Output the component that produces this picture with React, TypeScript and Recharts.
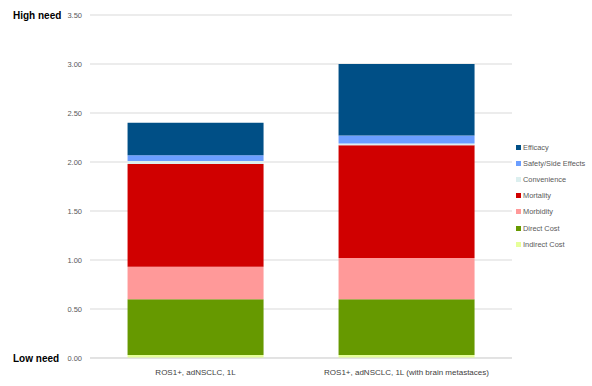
import { BarChart, Bar, XAxis, YAxis, CartesianGrid } from "recharts";

const categories = ["ROS1+, adNSCLC, 1L", "ROS1+, adNSCLC, 1L (with brain metastaces)"];
const indirectCost = [0.03, 0.03];
const directCost = [0.57, 0.57];
const morbidity = [0.33, 0.42];
const mortality = [1.05, 1.15];
const convenience = [0.03, 0.02];
const safety = [0.06, 0.08];
const efficacy = [0.33, 0.73];
const yTicks = [0, 0.5, 1, 1.5, 2, 2.5, 3, 3.5];

// bottom to top stack order
const series = [
  { key: "indirect", name: "Indirect Cost", values: indirectCost, color: "#e6ff99" },
  { key: "direct", name: "Direct Cost", values: directCost, color: "#669900" },
  { key: "morbidity", name: "Morbidity", values: morbidity, color: "#ff9999" },
  { key: "mortality", name: "Mortality", values: mortality, color: "#d00000" },
  { key: "convenience", name: "Convenience", values: convenience, color: "#dcefef" },
  { key: "safety", name: "Safety/Side Effects", values: safety, color: "#6b9eff" },
  { key: "efficacy", name: "Efficacy", values: efficacy, color: "#004f86" },
];

const data = categories.map((name, i) => {
  const row: Record<string, string | number> = { name };
  series.forEach((s) => (row[s.key] = s.values[i]));
  return row;
});

const font = "'Liberation Sans', Arial, sans-serif";

function YTick(props: any) {
  const { x, y, payload } = props;
  const v = payload.value as number;
  return (
    <g>
      <text x={x} y={y} dy={3} textAnchor="end" fontSize={7.5} fill="#595959" fontFamily={font}>
        {v.toFixed(2)}
      </text>
      {v === 3.5 && (
        <text x={13} y={y} dy={3.5} fontSize={10} fontWeight="bold" fill="#000" fontFamily={font}>
          High need
        </text>
      )}
      {v === 0 && (
        <text x={13} y={y} dy={3.5} fontSize={10} fontWeight="bold" fill="#000" fontFamily={font}>
          Low need
        </text>
      )}
    </g>
  );
}

export default function App() {
  return (
    <div style={{ position: "absolute", left: 0, top: 0, width: 592, height: 386, background: "#fff" }}>
      <BarChart
        width={592}
        height={386}
        data={data}
        margin={{ top: 15, right: 80, bottom: 8, left: 0 }}
        barCategoryGap="17.8%"
      >
        <CartesianGrid vertical={false} stroke="#d9d9d9" />
        <XAxis
          dataKey="name"
          axisLine={{ stroke: "#d9d9d9" }}
          tickLine={false}
          tickSize={0}
          tickMargin={11}
          height={20}
          tick={{ fontSize: 8, fill: "#404040", fontFamily: font }}
        />
        <YAxis
          width={90}
          domain={[0, 3.5]}
          ticks={yTicks}
          axisLine={false}
          tickLine={false}
          tick={<YTick />}
        />
        {series.map((s) => (
          <Bar key={s.key} dataKey={s.key} name={s.name} stackId="a" fill={s.color} isAnimationActive={false} />
        ))}
      </BarChart>
      <div style={{ position: "absolute", left: 516, top: 139, fontFamily: font, fontSize: 7.4, color: "#595959" }}>
        {[...series].reverse().map((s) => (
          <div key={s.key} style={{ display: "flex", alignItems: "center", height: 16.2 }}>
            <span style={{ width: 5, height: 5, background: s.color, marginRight: 2, display: "inline-block" }} />
            {s.name}
          </div>
        ))}
      </div>
    </div>
  );
}
